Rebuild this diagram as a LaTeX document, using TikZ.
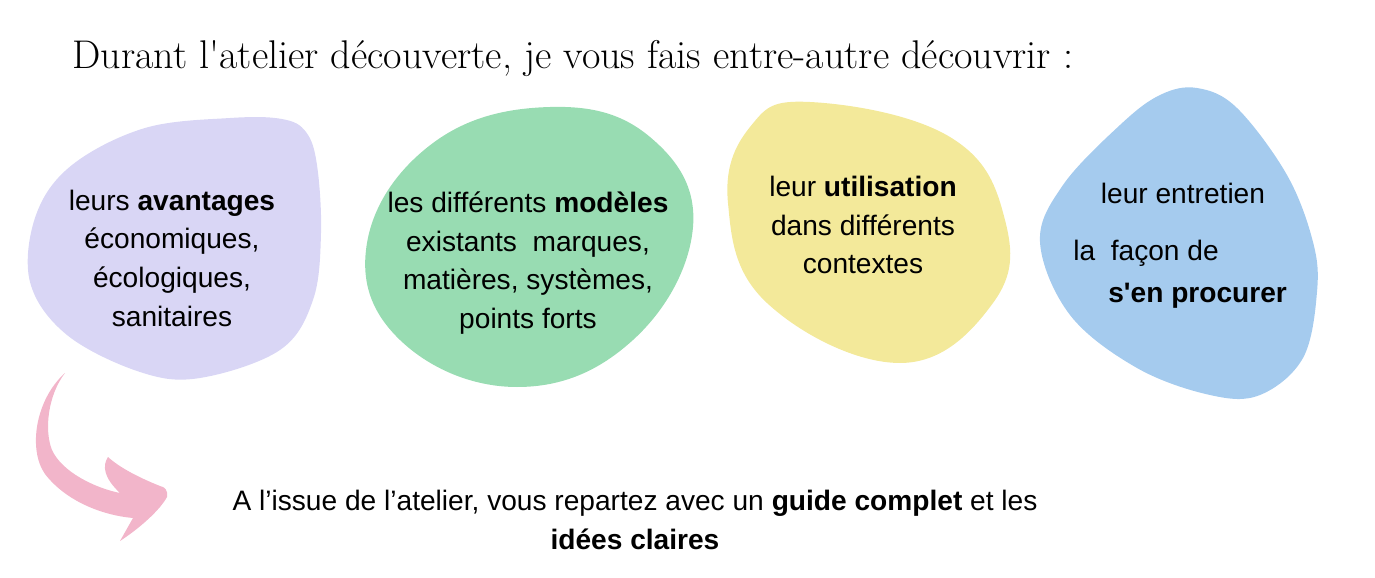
\documentclass[tikz,border=0pt]{standalone}
\usepackage{fontspec}
\setmainfont{Liberation Sans}[Ligatures=TeXOff]
\newfontfamily\titlefont{Latin Modern Roman}
\usepackage{tikz}
\definecolor{lavande}{HTML}{D9D6F5}
\definecolor{menthe}{HTML}{98DCB2}
\definecolor{citron}{HTML}{F3E99A}
\definecolor{ciel}{HTML}{A5CBEE}
\definecolor{rose}{HTML}{F2B5CA}
\tikzstyle{blob}=[draw=none]
\tikzstyle{bulle}=[align=center,inner sep=0pt,font=\fontsize{16pt}{22pt}\selectfont]
\tikzstyle{ligne}=[inner sep=0pt,font=\fontsize{16pt}{22pt}\selectfont]

\begin{document}
\begin{tikzpicture}[x=0.2mm,y=-0.2mm]
                \useasboundingbox (0,0) rectangle (1375,578);
                % les quatre bulles
                \fill[blob,lavande] plot[smooth cycle,tension=0.6] coordinates {(230,118) (282,119) (306,132) (317,165) (321,233) (313,300) (280,350) (200,378) (140,372) (67,335) (30,282) (36,215) (72,165) (145,128)};
                \fill[blob,menthe] plot[smooth cycle,tension=0.7] coordinates {(550,107) (650,137) (693,227) (633,340) (517,387) (400,340) (367,243) (433,143)};
                \fill[blob,citron] plot[smooth cycle,tension=0.7] coordinates {(810,102) (950,137) (1005,220) (993,303) (900,363) (767,303) (728,203) (750,127)};
                \fill[blob,ciel] plot[smooth cycle,tension=0.6] coordinates {(1197,88) (1237,108) (1287,175) (1313,242) (1317,292) (1303,358) (1260,395) (1210,395) (1137,368) (1070,315) (1040,242) (1063,185) (1120,125) (1160,95)};
                % fleche rose
                \fill[rose] (65,373) .. controls (35,400) and (28,450) .. (45,474)
                    .. controls (65,500) and (100,515) .. (133,518)
                    -- (120,541) .. controls (140,528) and (160,510) .. (167,497)
                    .. controls (168,490) and (165,487) .. (160,486)
                    .. controls (140,478) and (120,468) .. (108,457)
                    .. controls (102,466) and (104,478) .. (120,493)
                    .. controls (95,488) and (62,472) .. (52,450)
                    .. controls (44,430) and (48,395) .. (65,373) -- cycle;
                % textes
                \node[anchor=base west,inner sep=0pt,font=\titlefont\fontsize{22.8pt}{26pt}\selectfont] (titre) at (72,68) {Durant l'atelier découverte, je vous fais entre-autre découvrir :};
                \node[bulle] (avantages) at (172,258) {leurs \textbf{avantages}\\économiques,\\écologiques,\\sanitaires};
                \node[bulle] (modeles) at (528,263) {les différents \textbf{modèles}\\existants\ \ marques,\\matières, systèmes,\\points forts};
                \node[bulle] (usage) at (863,225) {leur \textbf{utilisation}\\dans différents\\contextes};
                \node[ligne,anchor=base] (entretien) at (1183,203) {leur entretien};
                \node[ligne,anchor=base west] (facon) at (1073,260) {la\ \ façon de};
                \node[ligne,anchor=base west] (procurer) at (1108,302) {\textbf{s'en procurer}};
                \node[bulle] (issue) at (635,520) {A l’issue de l’atelier, vous repartez avec un \textbf{guide complet} et les\\\textbf{idées claires}};
            \end{tikzpicture}
\end{document}
